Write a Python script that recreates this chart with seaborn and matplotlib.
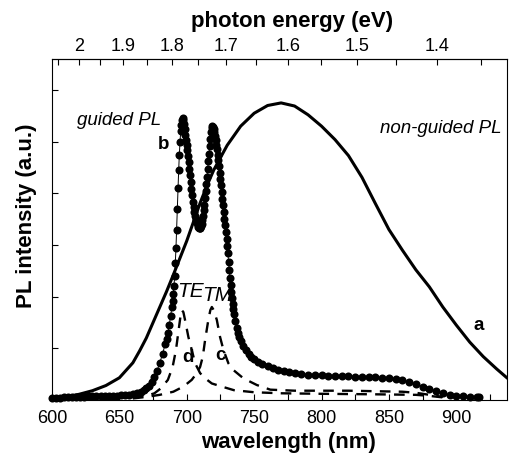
import matplotlib
matplotlib.use("Agg")
import matplotlib.pyplot as plt
import seaborn as sns
import numpy as np
from matplotlib.ticker import FixedLocator, FixedFormatter, MultipleLocator, NullFormatter

# ---------------- data ----------------
# curve a: non-guided PL (solid)
wl_a = [600, 610, 620, 630, 640, 650, 660, 665, 670, 675, 680, 685, 690, 695, 700,
        705, 710, 715, 720, 730, 740, 750, 760, 770, 780, 790, 800, 810, 820, 830,
        840, 850, 860, 870, 880, 890, 900, 910, 920, 930, 938]
int_a = [0.03, 0.06, 0.11, 0.18, 0.28, 0.43, 0.72, 0.95, 1.20, 1.50, 1.80, 2.10, 2.42, 2.75, 3.08,
         3.45, 3.82, 4.15, 4.45, 4.93, 5.30, 5.55, 5.70, 5.75, 5.69, 5.52, 5.30, 5.04, 4.73, 4.31,
         3.80, 3.30, 2.90, 2.52, 2.19, 1.80, 1.45, 1.12, 0.84, 0.60, 0.42]

# curve b: guided PL (dots)
wl_b = [600, 603, 606, 609, 612, 615, 618, 621, 624, 627, 630, 633, 636, 639, 642, 645, 648, 651,
        654, 657, 660, 663, 666, 668, 670, 672, 674, 676, 678, 680, 682, 684, 685, 686, 687, 688,
        689, 689.5, 690, 690.5, 691, 691.5, 692, 692.5, 693, 693.5, 694, 694.5, 695, 695.5, 696,
        696.5, 697, 697.5, 698, 698.5, 699, 699.5, 700, 700.5, 701, 701.5, 702, 702.5, 703, 703.5,
        704, 704.5, 705, 705.5, 706, 706.5, 707, 707.5, 708, 708.5, 709, 709.5, 710, 710.5, 711,
        711.5, 712, 712.5, 713, 713.5, 714, 714.5, 715, 715.5, 716, 716.5, 717, 717.5, 718, 718.5,
        719, 719.5, 720, 720.5, 721, 721.5, 722, 722.5, 723, 723.5, 724, 724.5, 725, 725.5, 726,
        726.5, 727, 727.5, 728, 728.5, 729, 729.5, 730, 730.5, 731, 731.5, 732, 732.5, 733, 733.5,
        734, 734.5, 735, 736, 737, 738, 739, 740, 742, 744, 746, 748, 750, 753, 756, 760, 764, 768,
        772, 776, 780, 785, 790, 795, 800, 805, 810, 815, 820, 825, 830, 835, 840, 845, 850, 855,
        860, 865, 870, 875, 880, 885, 890, 895, 900, 905, 910, 915, 917]
int_b = [0.04, 0.04, 0.04, 0.05, 0.05, 0.05, 0.06, 0.06, 0.06, 0.07, 0.07, 0.07, 0.07, 0.08, 0.08, 0.08, 0.08, 0.09,
         0.09, 0.10, 0.11, 0.13, 0.16, 0.19, 0.23, 0.28, 0.35, 0.45, 0.57, 0.72, 0.89, 1.08, 1.18, 1.30, 1.45, 1.62,
         1.80, 1.92, 2.05, 2.20, 2.40, 2.65, 2.95, 3.30, 3.70, 4.10, 4.45, 4.75, 5.00, 5.20, 5.33,
         5.42, 5.45, 5.42, 5.35, 5.24, 5.13, 5.03, 4.93, 4.83, 4.72, 4.60, 4.48, 4.35, 4.22, 4.09,
         3.96, 3.84, 3.73, 3.64, 3.57, 3.51, 3.46, 3.42, 3.38, 3.35, 3.33, 3.32, 3.33, 3.36, 3.41,
         3.48, 3.57, 3.67, 3.78, 3.91, 4.05, 4.18, 4.32, 4.47, 4.62, 4.77, 4.92, 5.06, 5.18, 5.27,
         5.30, 5.28, 5.24, 5.18, 5.11, 5.03, 4.94, 4.85, 4.75, 4.64, 4.52, 4.40, 4.28, 4.16, 4.03,
         3.90, 3.77, 3.64, 3.51, 3.38, 3.25, 3.12, 2.98, 2.84, 2.68, 2.52, 2.36, 2.22, 2.09, 1.97,
         1.86, 1.76, 1.67, 1.52, 1.40, 1.30, 1.22, 1.15, 1.04, 0.96, 0.89, 0.84, 0.79, 0.74, 0.70, 0.66, 0.62, 0.59,
         0.56, 0.54, 0.52, 0.50, 0.49, 0.48, 0.48, 0.47, 0.47, 0.46, 0.46, 0.45, 0.45, 0.45, 0.44, 0.43, 0.42, 0.40,
         0.38, 0.35, 0.31, 0.26, 0.21, 0.17, 0.13, 0.10, 0.08, 0.07, 0.06, 0.05, 0.05]

# curve c: TM component (dashed)
wl_c = [660, 670, 680, 690, 697.5, 703.7, 707.4, 709.9, 711.9, 713.6, 716, 717.5, 718.6, 720,
        722.3, 724.7, 727.2, 730.9, 734.6, 742, 752, 762, 780, 800, 820, 840, 860, 870, 880, 890]
int_c = [0.03, 0.06, 0.10, 0.16, 0.26, 0.39, 0.52, 0.64, 0.84, 1.16, 1.55, 1.74, 1.80, 1.74,
         1.55, 1.22, 0.97, 0.71, 0.58, 0.42, 0.29, 0.20, 0.18, 0.18, 0.18, 0.17, 0.16, 0.14, 0.10, 0.06]

# curve d: TE component (dashed)
wl_d = [660, 670, 676, 681, 686, 689.5, 692, 694.3, 695.5, 696.3, 697.5, 698.7, 701.2, 703.7,
        706.2, 709.9, 713.6, 718.6, 726, 735, 750, 770, 800, 840, 870, 880, 890]
int_d = [0.04, 0.08, 0.13, 0.23, 0.39, 0.64, 0.97, 1.42, 1.65, 1.74, 1.70, 1.55, 1.22, 0.97,
         0.71, 0.52, 0.42, 0.32, 0.26, 0.19, 0.15, 0.13, 0.12, 0.11, 0.10, 0.08, 0.05]

x_ticks = [600, 650, 700, 750, 800, 850, 900]
ev_ticks = [2.0, 1.9, 1.8, 1.7, 1.6, 1.5, 1.4]
ev_labels = ["2", "1.9", "1.8", "1.7", "1.6", "1.5", "1.4"]
ev_minor = [2.05, 1.95, 1.85, 1.75, 1.65, 1.55, 1.45, 1.35]
y_ticks = [1, 2, 3, 4, 5, 6]

# ---------------- style ----------------
sns.set_style("ticks", {"xtick.direction": "in", "ytick.direction": "in"})
plt.rcParams["font.family"] = ["Liberation Sans", "DejaVu Sans"]
plt.rcParams.update({
    "axes.linewidth": 0.8,
    "text.color": "black",
    "axes.labelcolor": "black",
    "axes.edgecolor": "black",
    "xtick.color": "black",
    "ytick.color": "black",
    "xtick.labelcolor": "black",
    "ytick.labelcolor": "black",
})

fig = plt.figure(figsize=(5.09, 4.53), dpi=100)
ax = fig.add_axes([52 / 509, 53 / 453, 455.5 / 509, 341 / 453])

sns.lineplot(x=wl_a, y=int_a, ax=ax, color="black", linewidth=2.2,
             sort=False, estimator=None, zorder=3)
sns.lineplot(x=wl_c, y=int_c, ax=ax, color="black", linewidth=1.7,
             linestyle=(0, (4.5, 3.5)), sort=False, estimator=None, zorder=2)
sns.lineplot(x=wl_d, y=int_d, ax=ax, color="black", linewidth=1.7,
             linestyle=(0, (4.5, 3.5)), sort=False, estimator=None, zorder=2)
sns.lineplot(x=wl_b, y=int_b, ax=ax, color="black", linewidth=0.7,
             marker="o", markersize=5.8, markeredgewidth=0, markerfacecolor="black",
             sort=False, estimator=None, zorder=4, clip_on=False)

ax.set_xlim(600, 938)
ax.set_ylim(0, 6.6)
ax.xaxis.set_major_locator(FixedLocator(x_ticks))
ax.xaxis.set_minor_locator(MultipleLocator(25))
ax.yaxis.set_major_locator(FixedLocator(y_ticks))
ax.yaxis.set_major_formatter(NullFormatter())
ax.tick_params(axis="x", which="both", direction="in", length=4, width=0.8,
               labelsize=13, pad=7, top=False, colors="black")
ax.tick_params(axis="y", which="both", direction="in", length=4, width=0.8,
               right=False, colors="black")


def wl2ev(x):
    x = np.asarray(x, dtype=float)
    with np.errstate(divide="ignore", invalid="ignore"):
        return 1239.84 / x


secax = ax.secondary_xaxis("top", functions=(wl2ev, wl2ev))
secax.xaxis.set_major_locator(FixedLocator(ev_ticks))
secax.xaxis.set_major_formatter(FixedFormatter(ev_labels))
secax.xaxis.set_minor_locator(FixedLocator(ev_minor))
secax.tick_params(axis="x", which="both", direction="in", length=4, width=0.8,
                  labelsize=13, pad=3, colors="black")
secax.spines["top"].set_color("black")

ax.set_xlabel("wavelength (nm)", fontsize=16, fontweight="bold", color="black")
ax.xaxis.set_label_coords(0.519, -0.094)
ax.set_ylabel("PL intensity (a.u.)", fontsize=16, fontweight="bold", color="black")
ax.yaxis.set_label_coords(-0.033, 0.54)
fig.text(292.5 / 509, 1 - 21 / 453, "photon energy (eV)", fontsize=16,
         fontweight="bold", ha="center", va="center", color="black")

ax.text(650.1, 5.40, "guided PL", style="italic", fontsize=13.5, ha="center", va="center")
ax.text(683.1, 4.95, "b", fontweight="bold", fontsize=13.5, ha="center", va="center")
ax.text(888.8, 5.26, "non-guided PL", style="italic", fontsize=13.5, ha="center", va="center")
ax.text(916.3, 1.45, "a", fontweight="bold", fontsize=13.5, ha="center", va="center")
ax.text(702.8, 2.10, "TE", style="italic", fontsize=15, ha="center", va="center")
ax.text(722.9, 2.02, "TM", style="italic", fontsize=15, ha="center", va="center")
ax.text(700.6, 0.82, "d", fontweight="bold", fontsize=13.5, ha="center", va="center")
ax.text(724.7, 0.87, "c", fontweight="bold", fontsize=13.5, ha="center", va="center")

fig.savefig("out.png", dpi=100)
